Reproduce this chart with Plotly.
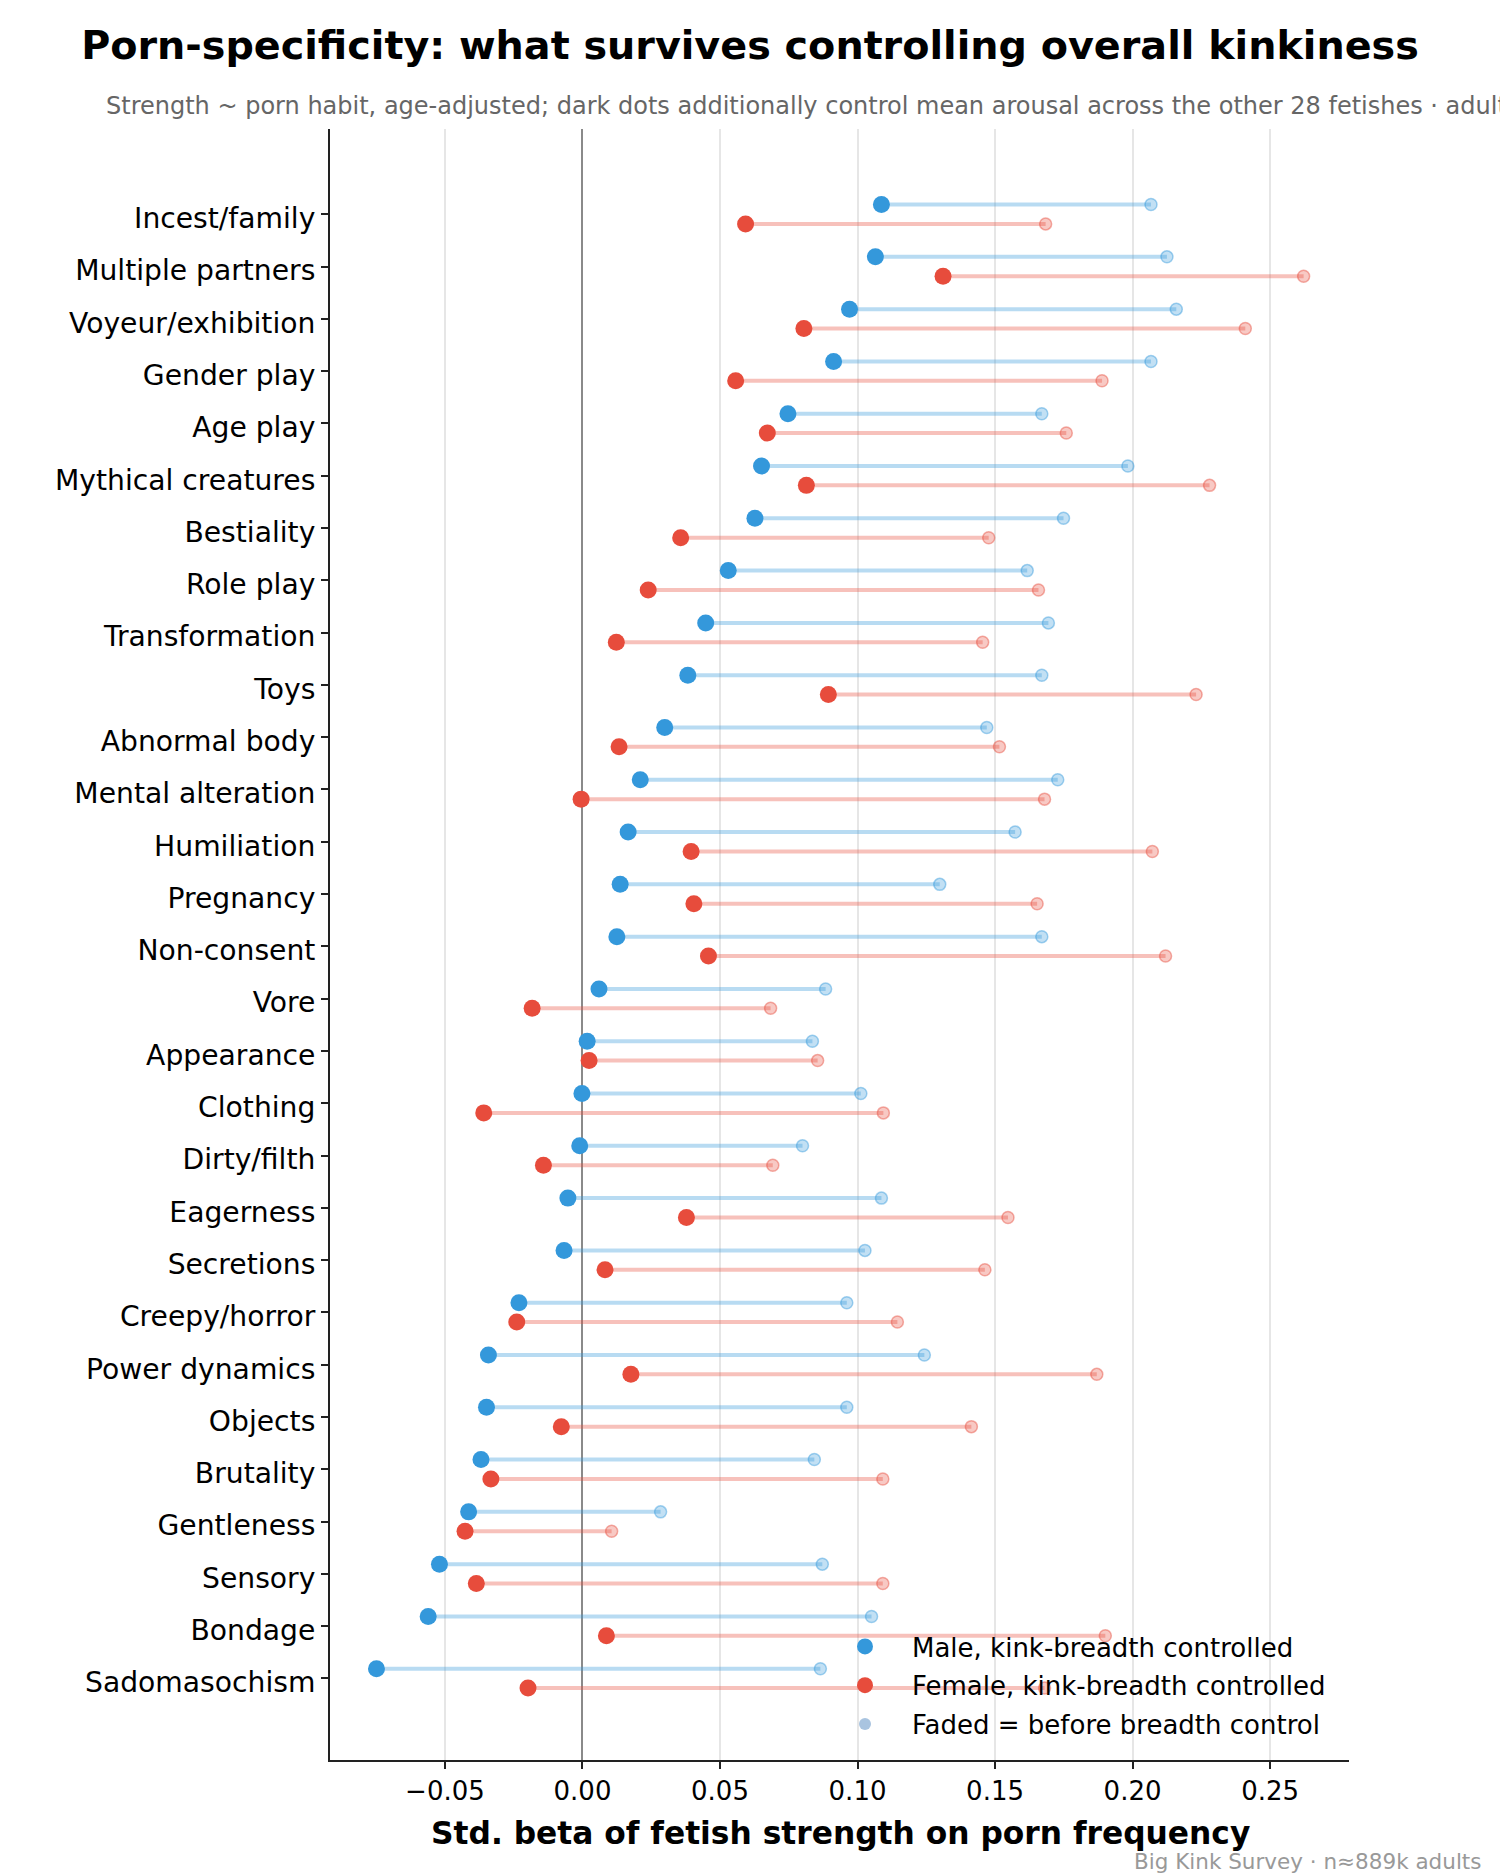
import plotly.graph_objects as go

categories = [
    "Incest/family", "Multiple partners", "Voyeur/exhibition", "Gender play", "Age play",
    "Mythical creatures", "Bestiality", "Role play", "Transformation", "Toys",
    "Abnormal body", "Mental alteration", "Humiliation", "Pregnancy", "Non-consent",
    "Vore", "Appearance", "Clothing", "Dirty/filth", "Eagerness",
    "Secretions", "Creepy/horror", "Power dynamics", "Objects", "Brutality",
    "Gentleness", "Sensory", "Bondage", "Sadomasochism",
]
male_ctrl = [0.1087, 0.1065, 0.0971, 0.0913, 0.0747, 0.0651, 0.0627, 0.0530, 0.0448, 0.0383,
             0.0299, 0.0210, 0.0166, 0.0137, 0.0125, 0.0060, 0.0017, -0.0002, -0.0010, -0.0053,
             -0.0067, -0.0231, -0.0342, -0.0349, -0.0369, -0.0414, -0.0520, -0.0561, -0.0749]
male_raw = [0.2067, 0.2125, 0.2159, 0.2067, 0.1670, 0.1983, 0.1749, 0.1617, 0.1694, 0.1670,
            0.1470, 0.1728, 0.1573, 0.1299, 0.1670, 0.0884, 0.0836, 0.1012, 0.0800, 0.1087,
            0.1027, 0.0961, 0.1243, 0.0961, 0.0843, 0.0284, 0.0872, 0.1051, 0.0865]
female_ctrl = [0.0593, 0.1311, 0.0805, 0.0557, 0.0672, 0.0814, 0.0357, 0.0239, 0.0123, 0.0894,
               0.0133, -0.0005, 0.0395, 0.0405, 0.0458, -0.0183, 0.0024, -0.0359, -0.0142, 0.0378,
               0.0082, -0.0239, 0.0176, -0.0077, -0.0333, -0.0427, -0.0386, 0.0087, -0.0198]
female_raw = [0.1684, 0.2622, 0.2410, 0.1889, 0.1759, 0.2280, 0.1477, 0.1658, 0.1455, 0.2231,
              0.1516, 0.1680, 0.2072, 0.1653, 0.2120, 0.0684, 0.0855, 0.1094, 0.0692, 0.1547,
              0.1463, 0.1145, 0.1870, 0.1414, 0.1092, 0.0106, 0.1092, 0.1901, 0.1680]
x_tick_vals = [-0.05, 0.0, 0.05, 0.10, 0.15, 0.20, 0.25]
x_tick_text = ["\u22120.05", "0.00", "0.05", "0.10", "0.15", "0.20", "0.25"]

BLUE = "#3498db"
RED = "#e74c3c"
FONT = "DejaVu Sans"
OFF = 0.185

n = len(categories)
base = [n - 1 - i for i in range(n)]
y_m = [b + OFF for b in base]
y_f = [b - OFF for b in base]


def segs(x0, x1, ys):
    xs, yy = [], []
    for a, b, y in zip(x0, x1, ys):
        xs += [a, b, None]
        yy += [y, y, None]
    return xs, yy


fig = go.Figure()
for ctrl, raw, ys, col, rgb in [
    (male_ctrl, male_raw, y_m, BLUE, "52,152,219"),
    (female_ctrl, female_raw, y_f, RED, "231,76,60"),
]:
    xs, yy = segs(ctrl, raw, ys)
    fig.add_trace(go.Scatter(x=xs, y=yy, mode="lines", showlegend=False, hoverinfo="skip",
                             line=dict(color=f"rgba({rgb},0.35)", width=4)))
    fig.add_trace(go.Scatter(x=raw, y=ys, mode="markers", showlegend=False,
                             marker=dict(size=12, color=f"rgba({rgb},0.3)",
                                         line=dict(color=f"rgba({rgb},0.45)", width=1.5))))

fig.add_trace(go.Scatter(x=male_ctrl, y=y_m, mode="markers", name="Male, kink-breadth controlled",
                         legendgroup="a", marker=dict(size=17, color=BLUE)))
fig.add_trace(go.Scatter(x=female_ctrl, y=y_f, mode="markers", name="Female, kink-breadth controlled",
                         legendgroup="b", marker=dict(size=17, color=RED)))
fig.add_trace(go.Scatter(x=[None], y=[None], mode="markers", name="Faded = before breadth control",
                         legendgroup="c", marker=dict(size=12, color="#a9c4e0")))

L, R, T, B = 330, 151, 129, 115
W, H = 1500, 1875
ph = H - T - B
pw = W - L - R


def px_x(X):
    return (X - L) / pw


def px_y(Y):
    return (H - B - Y) / ph


fig.update_layout(
    width=W, height=H,
    margin=dict(l=L, r=R, t=T, b=B, pad=0),
    paper_bgcolor="white", plot_bgcolor="white",
    font=dict(family=FONT, color="black"),
    title=dict(text="Porn-specificity: what survives controlling overall kinkiness",
               x=0.5, xanchor="center", y=1 - 45 / H, yanchor="middle",
               font=dict(size=39.7, family=FONT, color="black", weight="bold")),
    showlegend=True,
    legend=dict(x=px_x(818), y=px_y(1623), xanchor="left", yanchor="top",
                bgcolor="rgba(255,255,255,0)", borderwidth=0,
                font=dict(size=26, family=FONT, color="black"),
                itemwidth=84, tracegroupgap=2),
    xaxis=dict(range=[-0.0918, 0.2787], tickvals=x_tick_vals, ticktext=x_tick_text,
               showgrid=True, gridcolor="#e6e6e6", gridwidth=1.5,
               zeroline=True, zerolinecolor="#8a8a8a", zerolinewidth=1.6,
               showline=True, linecolor="#222222", linewidth=2,
               ticks="outside", ticklen=7, tickwidth=1.6, tickcolor="#222222",
               tickfont=dict(size=26, family=FONT, color="black")),
    yaxis=dict(range=[-1.56, 29.63], tickvals=base, ticktext=categories,
               showgrid=False, zeroline=False,
               showline=True, linecolor="#222222", linewidth=2,
               ticks="outside", ticklen=7, tickwidth=1.6, tickcolor="#222222",
               ticklabelshift=4,
               tickfont=dict(size=28.2, family=FONT, color="black")),
    annotations=[
        dict(text="Strength ~ porn habit, age-adjusted; dark dots additionally control mean arousal across the other 28 fetishes \u00b7 adults",
             xref="paper", yref="paper", x=px_x(104), y=px_y(106), xanchor="left", yanchor="middle",
             showarrow=False, font=dict(size=24, family=FONT, color="#666666")),
        dict(text="Std. beta of fetish strength on porn frequency",
             xref="paper", yref="paper", x=px_x(840), y=px_y(1833), xanchor="center", yanchor="middle",
             showarrow=False, font=dict(size=31.3, family=FONT, color="black", weight="bold")),
        dict(text="Big Kink Survey \u00b7 n\u2248889k adults",
             xref="paper", yref="paper", x=px_x(1484), y=px_y(1861), xanchor="right", yanchor="middle",
             showarrow=False, font=dict(size=21.5, family=FONT, color="#999999")),
    ],
)

fig.write_html("out.html")
